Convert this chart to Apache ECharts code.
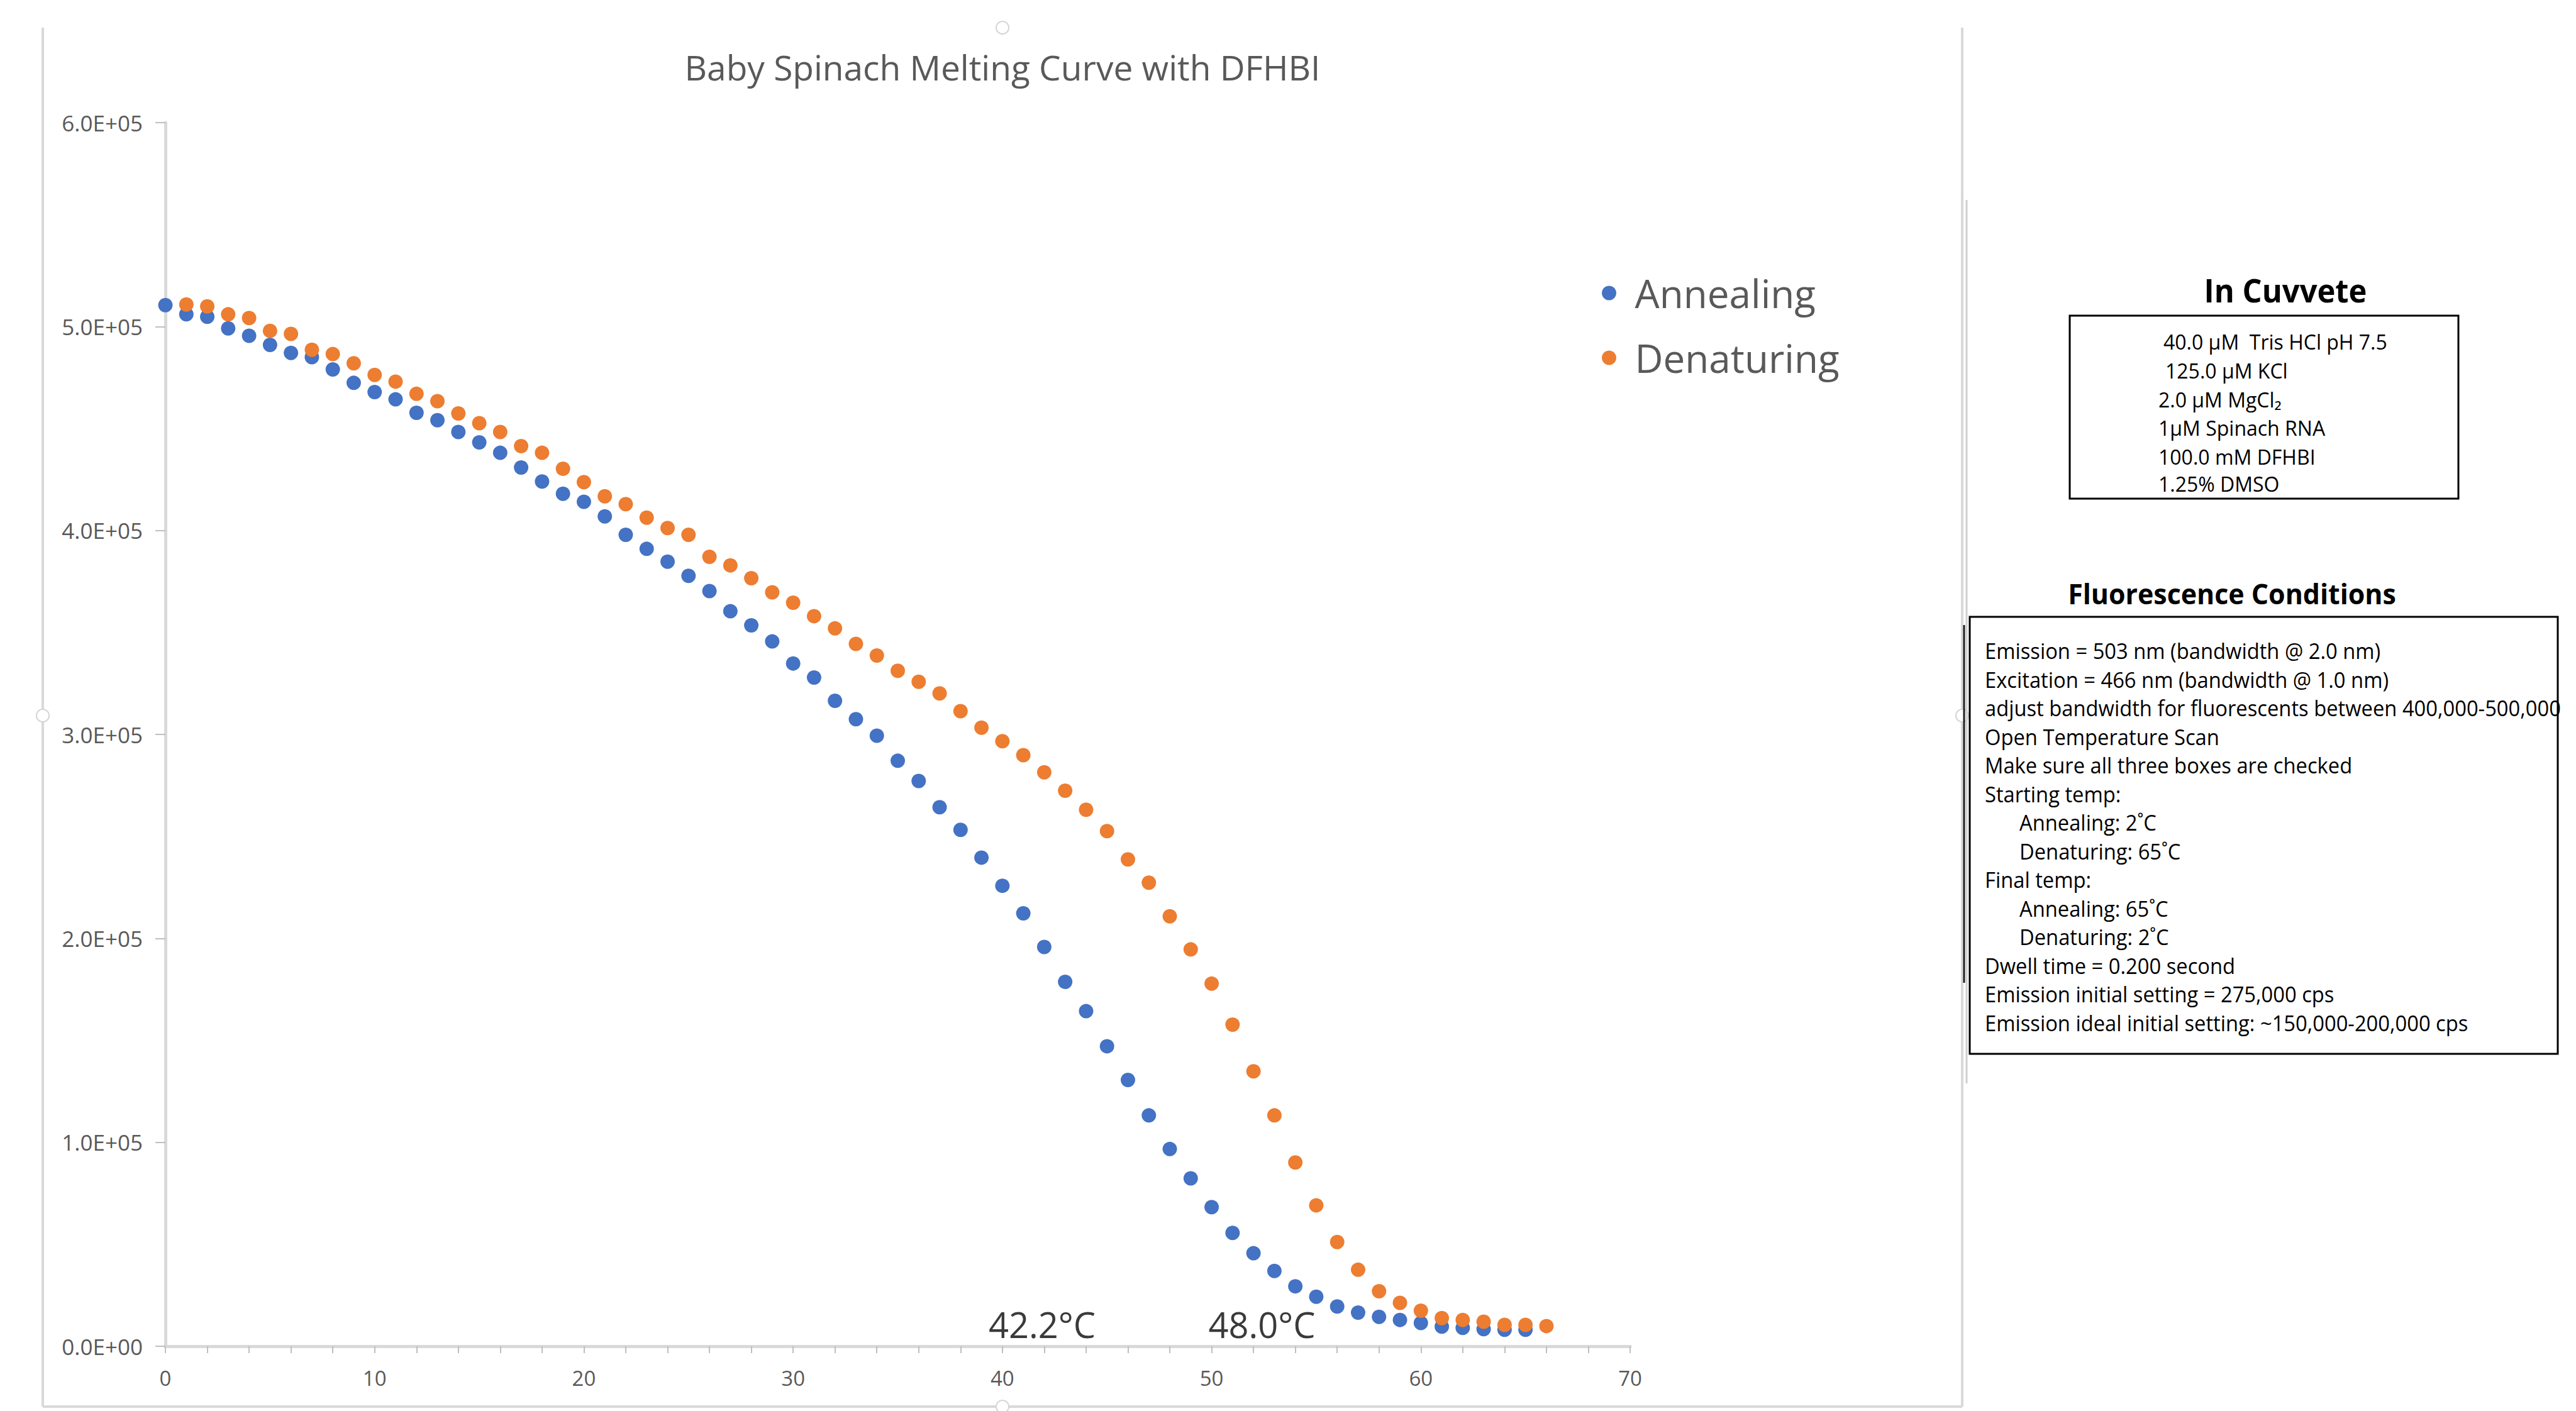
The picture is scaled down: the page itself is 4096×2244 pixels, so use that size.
<!DOCTYPE html>
<html><head><meta charset="utf-8">
<script src="https://cdn.jsdelivr.net/npm/echarts@6/dist/echarts.min.js"></script>
<style>html,body{margin:0;padding:0;background:#fff;}#c{width:4096px;height:2244px;}</style>
</head><body><div id="c"></div>
<script>
// ---------------- DATA ----------------
const chartTitle = 'Baby Spinach Melting Curve with DFHBI';
const seriesNames = ['Annealing', 'Denaturing'];
const annealingX = [0,1,2,3,4,5,6,7,8,9,10,11,12,13,14,15,16,17,18,19,20,21,22,23,24,25,26,27,28,29,30,31,32,33,34,35,36,37,38,39,40,41,42,43,44,45,46,47,48,49,50,51,52,53,54,55,56,57,58,59,60,61,62,63,64,65];
const annealingY = [510500,506000,504800,499100,495500,491000,487100,485000,479000,472400,467900,464300,457700,454100,448300,443200,438100,430900,424000,418000,414100,406900,397900,391000,384700,377800,370300,360400,353500,345600,334800,327900,316500,307500,299400,287100,277200,264300,253200,239600,225800,212300,195800,178700,164300,147100,130600,113200,96700,82300,68200,55600,45600,36900,29400,24300,19500,16500,14400,12900,11400,9600,9000,8400,8100,8100];
const denaturingX = [1,2,3,4,5,6,7,8,9,10,11,12,13,14,15,16,17,18,19,20,21,22,23,24,25,26,27,28,29,30,31,32,33,34,35,36,37,38,39,40,41,42,43,44,45,46,47,48,49,50,51,52,53,54,55,56,57,58,59,60,61,62,63,64,65,66];
const denaturingY = [510800,509900,506000,504200,497900,496400,488600,486500,482000,476300,473000,467000,463400,457400,452600,448300,441400,438100,430300,423700,416800,412900,406300,401200,397900,387100,382900,376600,369700,364600,358000,352000,344400,338700,331200,325800,320100,311400,303300,296700,289800,281400,272400,263100,252600,238700,227300,210800,194600,177800,157700,134800,113200,90100,69100,51100,37500,27000,21300,17400,13800,12900,12000,10500,10500,9900];
const yTickLabels = ['0.0E+00','1.0E+05','2.0E+05','3.0E+05','4.0E+05','5.0E+05','6.0E+05'];
const meltLabels = ['42.2°C', '48.0°C'];
const meltLabelAt = [[41.9, 10800], [52.4, 10800]];
const cuvetteTitle = 'In Cuvvete';
const cuvetteLines = ['40.0 µM  Tris HCl pH 7.5', '125.0 µM KCl', '2.0 µM MgCl₂', '1µM Spinach RNA', '100.0 mM DFHBI', '1.25% DMSO'];
const fluorTitle = 'Fluorescence Conditions';
const fluorLines = ['Emission = 503 nm (bandwidth @ 2.0 nm)', 'Excitation = 466 nm (bandwidth @ 1.0 nm)', 'adjust bandwidth for fluorescents between 400,000-500,000', 'Open Temperature Scan', 'Make sure all three boxes are checked', 'Starting temp:', 'Annealing: 2˚C', 'Denaturing: 65˚C', 'Final temp:', 'Annealing: 65˚C', 'Denaturing: 2˚C', 'Dwell time = 0.200 second', 'Emission initial setting = 275,000 cps', 'Emission ideal initial setting: ~150,000-200,000 cps'];
const fluorIndent = [0,0,0,0,0,0,1,1,0,1,1,0,0,0];

// ---------------- STYLE ----------------
const FONT = '"Open Sans", "Noto Sans", "DejaVu Sans", sans-serif';
const GREY_TXT = '#595959';
const AX = '#D9D9D9';

const chart = echarts.init(document.getElementById('c'), null, {renderer: 'svg'});

function pairs(xs, ys) { return xs.map((x, i) => [x, ys[i]]); }

chart.setOption({
  backgroundColor: '#ffffff',
  animation: false,
  grid: {left: 263, right: 1504, top: 195, bottom: 103, containLabel: false},
  legend: {
    orient: 'vertical', left: 2542, top: 430, itemGap: 41,
    itemWidth: 72, itemHeight: 23, icon: 'circle',
    textStyle: {fontSize: 62, color: GREY_TXT, fontFamily: FONT, lineHeight: 62},
    data: seriesNames
  },
  xAxis: {
    type: 'value', min: 0, max: 70, interval: 10,
    axisLine: {show: true, onZero: false, lineStyle: {color: AX, width: 5}},
    axisTick: {show: true, length: 11, lineStyle: {color: '#BFBFBF', width: 2}},
    minorTick: {show: true, splitNumber: 5, length: 11, lineStyle: {color: '#BFBFBF', width: 2}},
    splitLine: {show: false},
    axisLabel: {fontSize: 33, color: GREY_TXT, fontFamily: FONT, margin: 34}
  },
  yAxis: {
    type: 'value', min: 0, max: 600000, interval: 100000,
    axisLine: {show: true, lineStyle: {color: AX, width: 5}},
    axisTick: {show: true, length: 16, lineStyle: {color: '#BFBFBF', width: 2}},
    splitLine: {show: false},
    axisLabel: {fontSize: 35, color: GREY_TXT, fontFamily: FONT, margin: 36,
      formatter: v => yTickLabels[Math.round(v / 100000)]}
  },
  series: [
    {name: seriesNames[0], type: 'scatter', symbol: 'circle', symbolSize: 23,
     itemStyle: {color: '#4472C4', opacity: 1}, data: pairs(annealingX, annealingY), z: 2},
    {name: seriesNames[1], type: 'scatter', symbol: 'circle', symbolSize: 23,
     itemStyle: {color: '#ED7D31', opacity: 1}, data: pairs(denaturingX, denaturingY), z: 3}
  ]
});

function txt(x, y, text, size, o) {
  o = o || {};
  return {type: 'text', x: x, y: y, scaleX: o.sx || 1, silent: true, z: 10,
    style: {text: text, x: 0, y: 0, fontSize: size, fontFamily: o.family || FONT,
      fontWeight: o.bold ? 'bold' : 'normal', fill: o.color || '#000',
      align: o.align || 'left', verticalAlign: 'middle',
      textAlign: o.align || 'left', textVerticalAlign: 'middle'}};
}
function line(x1, y1, x2, y2, color, w) {
  return {type: 'line', silent: true, shape: {x1, y1, x2, y2}, style: {stroke: color, lineWidth: w}};
}
function box(x, y, w, h) {
  return {type: 'rect', silent: true, shape: {x, y, width: w, height: h}, style: {fill: 'none', stroke: '#000', lineWidth: 3}};
}
function handle(cx, cy) {
  return {type: 'circle', silent: true, shape: {cx, cy, r: 10}, style: {fill: '#fff', stroke: '#D4D4D4', lineWidth: 2}};
}

const g = [];
// chart frame (left, bottom, right)
g.push(line(68, 44, 68, 2237, AX, 4));
g.push(line(68, 2237, 3120, 2237, AX, 4));
g.push(line(3120, 44, 3120, 2237, AX, 4));
g.push(handle(1594, 44), handle(1594, 2237), handle(68, 1138), handle(3120, 1138));
g.push(line(3127, 318, 3127, 1723, '#D0D0D0', 3));
g.push(line(3123, 994, 3123, 1563, '#222', 3));
// title
g.push(txt(1594, 106, chartTitle, 55, {align: 'center', color: GREY_TXT}));
// melting temperature labels placed in data coordinates
meltLabels.forEach((t, i) => {
  const p = chart.convertToPixel({gridIndex: 0}, meltLabelAt[i]);
  g.push(txt(p[0], p[1], t, 56, {align: 'center', color: '#3A3A3A'}));
});
// In Cuvvete panel
g.push(txt(3634, 461, cuvetteTitle, 52, {align: 'center', bold: true, sx: 0.94}));
g.push(box(3291, 502, 618, 291));
const cuvX = [3440, 3443, 3432, 3432, 3432, 3432];
const cuvY = [543.5, 589, 635, 680, 726, 769.5];
cuvetteLines.forEach((t, i) => g.push(txt(cuvX[i], cuvY[i], t, 32, {sx: 1.0})));
// Fluorescence panel
g.push(txt(3549, 944, fluorTitle, 44, {align: 'center', bold: true, sx: 0.975}));
g.push(box(3132, 981, 935, 695));
fluorLines.forEach((t, i) => g.push(txt(fluorIndent[i] ? 3211 : 3156, 1035 + i * 45.5, t, 35, {sx: 0.935})));

chart.setOption({graphic: g});
</script></body></html>
